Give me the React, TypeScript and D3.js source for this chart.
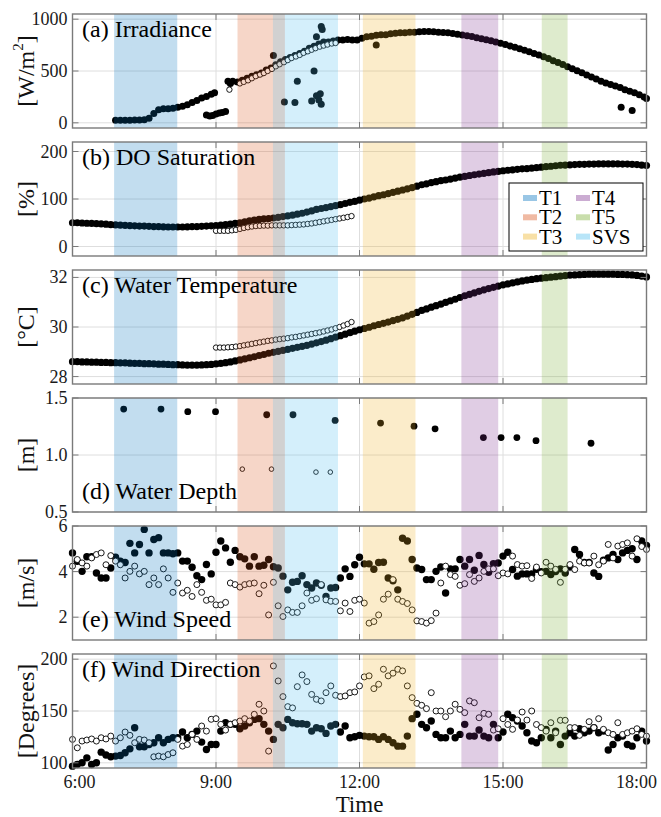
import React from "react";
import * as d3 from "d3";

const FONT = '"Liberation Serif", "Times New Roman", serif';

// sampling times in hours
const time6min = d3.range(121).map((i) => 6 + i / 10);
const time5min = d3.range(35).map((i) => 9 + i / 12);

const xTicks = [6, 9, 12, 15, 18];
const xTickLabels = ["6:00", "9:00", "12:00", "15:00", "18:00"];
// the two end labels sit a little inward in the original figure
const xLabelNudge = [7, 0, 0, 0, -10];

// shaded periods
const periodNames = ["T1", "T2", "T3", "T4", "T5", "SVS"];
const periodStart = [6.87, 9.45, 12.07, 14.13, 15.81, 10.44];
const periodEnd = [8.19, 10.19, 13.17, 14.9, 16.35, 11.55];
const periodFill = ["#0072bd", "#d95319", "#edb120", "#7e2f8e", "#77ac30", "#4dbeee"];
const periodSwatch = ["#99c6e5", "#f0baa3", "#f8e0a6", "#cbacd2", "#c9deac", "#b8e5f8"];
const overlapStart = 10.19;
const overlapEnd = 10.44;

// (a) irradiance [t, W/m2]
const irrFilled: [number, number][] = [
  [6.9, 25], [7.0, 25], [7.1, 24], [7.2, 25], [7.3, 26], [7.4, 27], [7.5, 30], [7.6, 45], [7.7, 90], [7.8, 125],
  [7.9, 135], [8.0, 135], [8.1, 140], [8.2, 150], [8.3, 160], [8.4, 175], [8.5, 195], [8.6, 215], [8.7, 240], [8.8, 255],
  [8.9, 275], [8.97, 290], [8.8, 75], [8.87, 65], [8.93, 70], [9.0, 85], [9.07, 95], [9.13, 100], [9.2, 110],
  [9.25, 400], [9.3, 380], [9.35, 400], [9.45, 395], [9.55, 410], [9.65, 430], [9.75, 450], [9.85, 465], [9.95, 480],
  [10.05, 510], [10.15, 530], [10.25, 560], [10.2, 650], [10.35, 590], [10.45, 610], [10.55, 630], [10.65, 650],
  [10.75, 670], [10.85, 690], [10.95, 720], [11.05, 740], [11.1, 830], [11.15, 760], [11.25, 780], [11.35, 780],
  [11.45, 790], [11.55, 800], [11.65, 800], [11.75, 805], [11.85, 800], [11.95, 800], [12.05, 815], [12.15, 830],
  [12.25, 835], [12.35, 845], [12.45, 850], [12.55, 850], [12.65, 860], [12.75, 865], [12.85, 870], [12.95, 870],
  [13.05, 875], [13.15, 875], [13.25, 878], [13.35, 880], [13.45, 880], [13.55, 878], [13.65, 875], [13.75, 872],
  [13.85, 868], [13.95, 862], [14.05, 855], [14.15, 848], [14.25, 840], [14.35, 832], [14.45, 822], [14.55, 812],
  [14.65, 802], [14.75, 792], [14.85, 780], [14.95, 768], [15.05, 755], [15.15, 742], [15.25, 728], [15.35, 714],
  [15.45, 700], [15.55, 685], [15.65, 670], [15.75, 655], [15.85, 638], [15.95, 620], [16.05, 600], [16.15, 582],
  [16.25, 562], [16.35, 542], [16.45, 522], [16.55, 502], [16.65, 482], [16.75, 462], [16.85, 442], [16.95, 422],
  [17.05, 402], [17.15, 385], [17.25, 370], [17.35, 355], [17.45, 340], [17.55, 320], [17.65, 305], [17.75, 290],
  [17.85, 270], [17.95, 250], [18.0, 235],
  [10.43, 200], [10.65, 195], [10.7, 400], [11.0, 210], [11.05, 500], [11.1, 260], [11.15, 220], [11.18, 280],
  [11.2, 180], [11.2, 930], [11.22, 900], [12.35, 750], [17.47, 150], [17.7, 120],
];
const irrOpen: [number, number][] = [
  [9.28, 320], [9.5, 380], [9.58, 395], [9.67, 410], [9.75, 430], [9.83, 450], [9.92, 465], [10.0, 480], [10.08, 500],
  [10.17, 520], [10.25, 545], [10.33, 565], [10.42, 585], [10.5, 605], [10.58, 625], [10.67, 640], [10.75, 655],
  [10.83, 675], [10.92, 690], [11.0, 705], [11.08, 720], [11.17, 735], [11.25, 745], [11.33, 755], [11.42, 765], [11.5, 770],
];

// (b) DO saturation [%]
const doFilled = [
  50, 50, 49.5, 49, 48.5, 48, 47.5, 47, 46, 45.5,
  45, 44.5, 44, 43.5, 43, 43, 42.5, 42, 42, 41.5,
  41, 41, 41, 41, 41.5, 42, 42, 42.5, 43, 43.5,
  44, 45, 46, 47, 48.5, 50, 52, 54, 55.5, 57,
  58, 59, 60, 61.5, 63, 64.5, 66, 68, 70, 72.5,
  75, 78, 80, 82, 84, 86, 88, 90.5, 93, 95,
  97.5, 100, 102, 104.5, 107, 109, 111.5, 114, 116.5, 119,
  121.5, 124, 127, 130, 132, 134.5, 136.5, 138.5, 140, 142,
  144, 146, 147.5, 149.5, 151, 152.5, 154, 155.5, 157, 158,
  159.5, 160.5, 161.5, 162.5, 163.5, 164, 165, 166, 167, 168,
  169, 170, 171, 171.5, 172, 172.5, 173, 173, 173.5, 173.5,
  174, 174, 174, 174, 174, 173.5, 173.5, 173, 172.5, 171.5,
  170.5,
];
const doOpen = [
  33, 33, 33, 33, 34, 35, 37, 39, 40.5, 42,
  43, 43.5, 44, 44, 44.5, 44.5, 44.5, 44.5, 44.5, 45,
  45.5, 46, 46.5, 47.5, 48.5, 50, 51.5, 53, 54.5, 56,
  57.5, 59, 60.5, 62, 64,
];

// (c) water temperature [degC]
const tempFilled = [
  28.6, 28.6, 28.59, 28.59, 28.58, 28.58, 28.57, 28.57, 28.56, 28.56,
  28.55, 28.55, 28.54, 28.53, 28.53, 28.52, 28.52, 28.51, 28.5, 28.5,
  28.49, 28.48, 28.48, 28.47, 28.46, 28.46, 28.46, 28.47, 28.48, 28.49,
  28.51, 28.53, 28.56, 28.59, 28.63, 28.67, 28.71, 28.76, 28.8, 28.85,
  28.89, 28.94, 28.98, 29.02, 29.06, 29.1, 29.14, 29.18, 29.22, 29.26,
  29.31, 29.36, 29.41, 29.47, 29.53, 29.59, 29.65, 29.71, 29.77, 29.83,
  29.89, 29.94, 29.99, 30.05, 30.1, 30.15, 30.2, 30.26, 30.31, 30.37,
  30.44, 30.51, 30.59, 30.67, 30.73, 30.8, 30.86, 30.92, 30.99, 31.06,
  31.12, 31.19, 31.26, 31.32, 31.38, 31.44, 31.5, 31.55, 31.6, 31.65,
  31.7, 31.74, 31.78, 31.82, 31.86, 31.89, 31.92, 31.95, 31.97, 31.99,
  32.01, 32.03, 32.05, 32.07, 32.09, 32.1, 32.11, 32.12, 32.13, 32.13,
  32.13, 32.13, 32.13, 32.13, 32.12, 32.12, 32.11, 32.1, 32.08, 32.05,
  32.02,
];
const tempOpen = [
  29.17, 29.17, 29.17, 29.18, 29.19, 29.21, 29.23, 29.26, 29.29, 29.32,
  29.35, 29.38, 29.41, 29.44, 29.46, 29.49, 29.51, 29.53, 29.55, 29.58,
  29.6, 29.63, 29.66, 29.69, 29.72, 29.75, 29.78, 29.82, 29.86, 29.9,
  29.95, 30.0, 30.06, 30.12, 30.2,
];

// (d) water depth [t, m]
const depthFilled: [number, number][] = [
  [7.07, 1.403], [7.85, 1.403], [8.41, 1.38], [8.99, 1.38], [10.06, 1.353], [10.61, 1.353], [11.49, 1.303],
  [12.44, 1.28], [13.14, 1.253], [13.58, 1.23], [14.59, 1.153], [14.96, 1.153], [15.29, 1.153], [15.69, 1.126], [16.84, 1.103],
];
const depthOpen: [number, number][] = [[9.55, 0.876], [10.16, 0.876], [11.09, 0.85], [11.39, 0.85]];

// (e) wind speed [m/s]
const windSpdFilled = [
  4.82, 4.45, 4.01, 4.65, 4.65, 3.94, 3.72, 3.72, 4.16, 4.63,
  4.46, 4.4, 5.24, 4.82, 5.19, 5.85, 4.82, 5.41, 5.49, 4.82,
  4.82, 4.78, 4.82, 4.46, 4.46, 4.19, 3.82, 3.65, 4.31, 3.9,
  4.85, 5.34, 5.04, 4.41, 4.93, 4.65, 4.56, 4.24, 4.65, 4.24,
  4.28, 4.53, 4.21, 4.16, 3.8, 3.2, 3.53, 3.57, 3.82, 3.43,
  3.28, 3.5, 3.4, 2.91, 3.28, 3.3, 3.72, 4.12, 3.79, 4.3,
  4.63, 4.34, 4.34, 4.1, 4.4, 4.41, 3.72, 3.6, 3.2, 5.46,
  5.34, 4.53, 4.16, 4.09, 3.65, 3.65, 4.01, 4.2, 3.06, 4.12,
  4.12, 4.53, 4.24, 4.53, 4.06, 4.71, 4.31, 3.97, 4.35, 4.38,
  4.68, 4.85, 4.09, 3.8, 3.9, 3.9, 3.9, 4.1, 4.0, 4.01,
  3.87, 4.0, 4.12, 3.94, 4.2, 4.97, 4.75, 4.4, 4.4, 3.94,
  3.79, 4.5, 4.6, 4.75, 4.53, 4.82, 4.93, 5.0, 4.53, 5.34,
  5.15,
];
const windSpdOpen = [
  4.24, 4.53, 4.38, 4.24, 4.6, 4.75, 4.82, 4.3, 4.7, 4.46,
  4.3, 3.72, 4.01, 4.24, 3.9, 4.01, 3.43, 3.72, 3.43, 4.12,
  3.72, 3.09, 3.5, 3.06, 3.18, 2.91, 3.43, 3.09, 2.74, 2.79,
  2.54, 2.54, 2.65, 3.5, 3.43, 3.32, 3.43, 3.47, 3.5, 3.03,
  3.4, 2.1, 3.53, 2.5, 2.03, 2.32, 2.21, 2.21, 2.5, 3.06,
  2.74, 2.81, 3.43, 2.76, 2.7, 2.69, 2.28, 2.62, 2.25, 2.74,
  2.79, 2.62, 1.74, 1.81, 2.1, 2.79, 3.01, 3.65, 2.79, 2.69,
  2.6, 2.32, 1.84, 1.81, 1.74, 1.85, 2.18, 3.5, 4.24, 3.87,
  3.79, 3.4, 3.47, 3.87, 3.57, 3.72, 4.01, 4.12, 4.12, 3.82,
  3.94, 3.9, 4.68, 4.31, 4.24, 4.26, 3.7, 4.2, 3.94, 4.41,
  4.24, 4.1, 3.53, 4.1, 4.31, 4.09, 4.46, 4.38, 4.38, 4.68,
  4.3, 4.46, 5.19, 4.6, 5.12, 5.19, 5.26, 4.68, 5.44, 5.1,
  4.97,
];

// (f) wind direction [deg]
const windDirFilled = [
  96.8, 98.4, 100, 104.8, 98.4, 100, 110.3, 107.5, 105.8, 106.5,
  107, 109.7, 113.5, 133.9, 115.5, 115.5, 117.7, 119.4, 124.2, 119.4,
  122.6, 124.2, 124.2, 129.7, 124.2, 127.4, 130.6, 120, 112.9, 117.7,
  117.7, 130.6, 138.7, 137.1, 137.1, 132.9, 135.5, 138.7, 141.9, 142.6,
  137.1, 130.6, 122.6, 137.1, 133.9, 141.9, 138.7, 137.7, 137.7, 137.1,
  130.6, 133.9, 132.9, 128.4, 135.5, 137.1, 129.7, 135.5, 124.2, 125.2,
  126.5, 125.8, 125.2, 125.2, 122.6, 125.2, 122.6, 119.4, 116.1, 116.1,
  125.8, 142.6, 146.8, 137.1, 133.9, 140.3, 127.4, 124.2, 124.2, 130.6,
  124.2, 127.4, 137.1, 125.8, 125.8, 131.6, 125.8, 124.2, 137.1, 124.2,
  129.7, 146.8, 143.5, 140.3, 135.5, 129, 121, 119.4, 124.2, 132.2,
  124.2, 130.6, 117.7, 125.8, 129, 125.8, 132.9, 129, 130.6, 133.9,
  129, 130.6, 112.3, 117.7, 124.2, 125.8, 117.7, 116.1, 124.2, 130.6,
  121,
];
const windDirOpen = [
  122.6, 114.5, 121, 122, 123, 121, 124.2, 123, 125.8, 121,
  124.2, 129.7, 126.5, 119.4, 122.6, 122, 119.4, 105.8, 106.5, 105.8,
  108, 109.7, 122.6, 116.1, 117.7, 127.4, 122.6, 135.5, 130.6, 142,
  142.6, 137.1, 131.6, 137.1, 138.7, 140.3, 142.6, 140.3, 146.8, 156.5,
  150, 111.3, 193.5, 179, 163.9, 154.2, 153, 173.5, 184.8, 178.4,
  166, 161.3, 159.7, 167.7, 174.2, 165.2, 163.9, 164.5, 167.7, 168.4,
  174.2, 182.9, 183.9, 171.6, 175.8, 190.3, 183.9, 186.5, 190.3, 188.7,
  174.2, 162.9, 157.4, 155.5, 152.3, 167.7, 150, 150, 144.5, 150,
  156.5, 151.6, 148.4, 159.7, 158, 143.5, 147.7, 146.8, 131.6, 132.9,
  142.6, 137, 132.3, 141.3, 149, 141.3, 150, 137, 134, 130.6,
  138.7, 129, 141, 141, 134, 134, 126.5, 132.3, 139.7, 134,
  142.6, 132.3, 129, 127.4, 138.7, 127.4, 129, 130.6, 132.9, 127.4,
  125.8,
];

const zip = (t: number[], v: number[]): [number, number][] => v.map((d, i) => [t[i], d]);

// layout
const X0 = 72.5;
const X1 = 646.5;
const TOP0 = 14;
const PITCH = 128;
const PH = 114;
const x = d3.scaleLinear().domain([6, 18]).range([X0, X1]);

type Spec = {
  title: string;
  titleBottom: boolean;
  domain: [number, number];
  ticks: number[];
  fmt: (d: number) => string;
  label: React.ReactNode;
  filled: [number, number][];
  open: [number, number][];
  rFilled: number;
  rOpen: number;
};

const panels: Spec[] = [
  {
    title: "(a) Irradiance", titleBottom: false, domain: [-50, 1050], ticks: [0, 500, 1000], fmt: String,
    label: (<>[W/m<tspan baselineShift="super" fontSize={15}>2</tspan>]</>),
    filled: irrFilled, open: irrOpen, rFilled: 3.5, rOpen: 2.7,
  },
  {
    title: "(b) DO Saturation", titleBottom: false, domain: [-20, 220], ticks: [0, 100, 200], fmt: String,
    label: "[%]", filled: zip(time6min, doFilled), open: zip(time5min, doOpen), rFilled: 3.6, rOpen: 2.7,
  },
  {
    title: "(c) Water Temperature", titleBottom: false, domain: [27.7, 32.3], ticks: [28, 30, 32], fmt: String,
    label: "[°C]", filled: zip(time6min, tempFilled), open: zip(time5min, tempOpen), rFilled: 3.6, rOpen: 2.7,
  },
  {
    title: "(d) Water Depth", titleBottom: true, domain: [0.5, 1.5], ticks: [0.5, 1.0, 1.5], fmt: d3.format(".1f"),
    label: "[m]", filled: depthFilled, open: depthOpen, rFilled: 3.4, rOpen: 2.3,
  },
  {
    title: "(e) Wind Speed", titleBottom: true, domain: [1, 6], ticks: [2, 4, 6], fmt: String,
    label: "[m/s]", filled: zip(time6min, windSpdFilled), open: zip(time6min, windSpdOpen), rFilled: 3.7, rOpen: 3.0,
  },
  {
    title: "(f) Wind Direction", titleBottom: false, domain: [95, 205], ticks: [100, 150, 200], fmt: String,
    label: "[Degrees]", filled: zip(time6min, windDirFilled), open: zip(time6min, windDirOpen), rFilled: 3.7, rOpen: 3.0,
  },
];

const Panel: React.FC<{ spec: Spec; idx: number }> = ({ spec, idx }) => {
  const top = TOP0 + idx * PITCH;
  const bottom = top + PH;
  const y = d3.scaleLinear().domain(spec.domain).range([bottom, top]);
  const tickLen = 6;

  return (
    <g>
      <rect x={X0} y={top} width={X1 - X0} height={PH} fill="#fff" />
      {/* grid */}
      {xTicks.slice(1, -1).map((t) => (
        <line key={"gx" + t} x1={x(t)} x2={x(t)} y1={top} y2={bottom} stroke="#dedede" strokeWidth={1} />
      ))}
      {spec.ticks.map((t) => (
        <line key={"gy" + t} x1={X0} x2={X1} y1={y(t)} y2={y(t)} stroke="#dedede" strokeWidth={1} />
      ))}
      {/* data */}
      {spec.filled.map((d, i) => (
        <circle key={"f" + i} cx={x(d[0])} cy={y(d[1])} r={spec.rFilled} fill="#000" />
      ))}
      {spec.open.map((d, i) => (
        <circle key={"o" + i} cx={x(d[0])} cy={y(d[1])} r={spec.rOpen} fill="#fff" stroke="#000" strokeWidth={0.9} />
      ))}
      {/* shaded periods drawn over data */}
      {periodNames.map((n, i) => (
        <rect key={"p" + n} x={x(periodStart[i])} y={top} width={x(periodEnd[i]) - x(periodStart[i])} height={PH}
          fill={periodFill[i]} fillOpacity={0.24} />
      ))}
      <rect x={x(overlapStart)} y={top} width={x(overlapEnd) - x(overlapStart)} height={PH} fill="#808080" fillOpacity={0.36} />
      {/* box and ticks */}
      <rect x={X0} y={top} width={X1 - X0} height={PH} fill="none" stroke="#7a7a7a" strokeWidth={1.4} />
      {spec.ticks.map((t) => (
        <g key={"t" + t} stroke="#7a7a7a" strokeWidth={1}>
          <line x1={X0} x2={X0 + tickLen} y1={y(t)} y2={y(t)} />
          <line x1={X1 - tickLen} x2={X1} y1={y(t)} y2={y(t)} />
        </g>
      ))}
      {xTicks.map((t) => (
        <g key={"xt" + t} stroke="#7a7a7a" strokeWidth={1}>
          <line x1={x(t)} x2={x(t)} y1={bottom} y2={bottom - tickLen} />
          <line x1={x(t)} x2={x(t)} y1={top} y2={top + tickLen} />
        </g>
      ))}
      {spec.ticks.map((t) => (
        <text key={"tl" + t} x={X0 - 5} y={y(t)} textAnchor="end" dominantBaseline="central"
          fontFamily={FONT} fontSize={18} fill="#1a1a1a">{spec.fmt(t)}</text>
      ))}
      <text transform={`translate(26,${(top + bottom) / 2}) rotate(-90)`} textAnchor="middle" dominantBaseline="central"
        fontFamily={FONT} fontSize={24} fill="#111">{spec.label}</text>
      <text x={82} y={spec.titleBottom ? bottom - 13 : top + 23} fontFamily={FONT} fontSize={24} fill="#000">
        {spec.title}
      </text>
    </g>
  );
};

const Legend: React.FC = () => {
  const bx = 509, by = 183, bw = 134, bh = 68;
  return (
    <g>
      <rect x={bx} y={by} width={bw} height={bh} fill="#fff" stroke="#000" strokeWidth={1} />
      {periodNames.map((n, i) => {
        const col = i < 3 ? 0 : 1;
        const row = i % 3;
        const sx = 523 + col * 53;
        const cy = 198 + row * 19.3;
        return (
          <g key={n}>
            <rect x={sx} y={cy - 3} width={14} height={6} fill={periodSwatch[i]} />
            <text x={sx + 16} y={cy} dominantBaseline="central" fontFamily={FONT} fontSize={21} fill="#000">
              {n}
            </text>
          </g>
        );
      })}
    </g>
  );
};

export default function App() {
  const lastBottom = TOP0 + 5 * PITCH + PH;
  return (
    <svg width={661} height={817} style={{ position: "absolute", left: 0, top: 0, background: "#fff" }}>
      <rect width={661} height={817} fill="#fff" />
      {panels.map((p, i) => (
        <Panel key={i} spec={p} idx={i} />
      ))}
      <Legend />
      {xTicks.map((t, i) => (
        <text key={t} x={x(t) + xLabelNudge[i]} y={lastBottom + 20} textAnchor="middle" fontFamily={FONT} fontSize={18}
          fill="#1a1a1a">
          {xTickLabels[i]}
        </text>
      ))}
      <text x={(X0 + X1) / 2} y={812} textAnchor="middle" fontFamily={FONT} fontSize={23} fill="#111">Time</text>
    </svg>
  );
}
